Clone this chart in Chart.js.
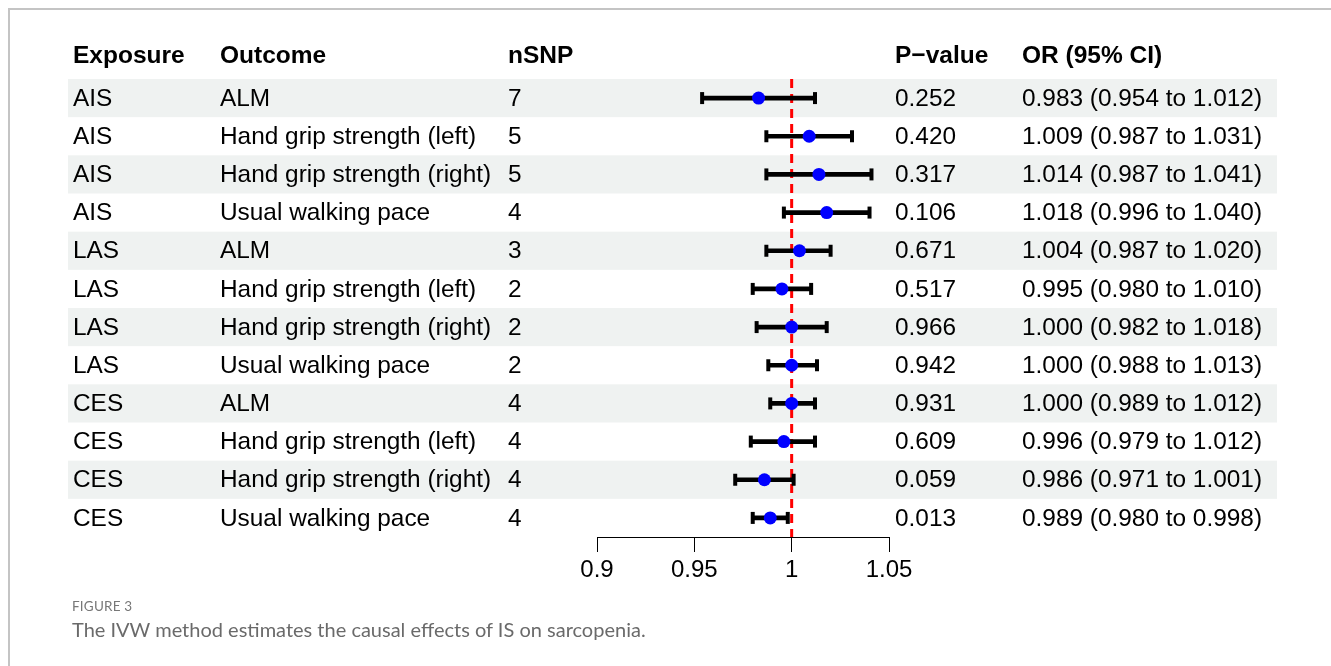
<!DOCTYPE html>
<html>
<head>
<meta charset="utf-8">
<script src="https://cdn.jsdelivr.net/npm/chart.js@4.4.1/dist/chart.umd.min.js"></script>
<style>
    html, body { margin: 0; padding: 0; background: #fff; }
    #wrap { position: relative; width: 1331px; height: 666px; overflow: hidden; }
    #frame { position: absolute; left: 8px; top: 8px; right: -2px; bottom: -2px;
             border-top: 2px solid #c4c4c4; border-left: 2px solid #c4c4c4; }
    #chart { position: absolute; left: 0; top: 0; }
    .fig { position: absolute; left: 72px; font-family: Lato, "Open Sans", sans-serif; color: #777; }
    #figno { top: 598px; font-size: 13.5px; letter-spacing: 0.2px; }
    #figcap { top: 617px; font-size: 20px; color: #6a6a6a; }
</style>
</head>
<body>
<div id="wrap">
    <div id="frame"></div>
    <canvas id="chart" width="1331" height="666"></canvas>
    <div class="fig" id="figno">FIGURE 3</div>
    <div class="fig" id="figcap">The IVW method estimates the causal effects of IS on sarcopenia.</div>
</div>
<script>
// Table data
const exposures = ["AIS","AIS","AIS","AIS","LAS","LAS","LAS","LAS","CES","CES","CES","CES"];
const outcomes = ["ALM","Hand grip strength (left)","Hand grip strength (right)","Usual walking pace",
                  "ALM","Hand grip strength (left)","Hand grip strength (right)","Usual walking pace",
                  "ALM","Hand grip strength (left)","Hand grip strength (right)","Usual walking pace"];
const nSNP = [7, 5, 5, 4, 3, 2, 2, 2, 4, 4, 4, 4];
const pValues = ["0.252","0.420","0.317","0.106","0.671","0.517","0.966","0.942","0.931","0.609","0.059","0.013"];
const orEst = [0.983, 1.009, 1.014, 1.018, 1.004, 0.995, 1.000, 1.000, 1.000, 0.996, 0.986, 0.989];
const ciLow = [0.954, 0.987, 0.987, 0.996, 0.987, 0.980, 0.982, 0.988, 0.989, 0.979, 0.971, 0.980];
const ciHigh = [1.012, 1.031, 1.041, 1.040, 1.020, 1.010, 1.018, 1.013, 1.012, 1.012, 1.001, 0.998];
const xTicks = [0.9, 0.95, 1, 1.05];
const headers = ["Exposure", "Outcome", "nSNP", "P\u2212value", "OR (95% CI)"];

const rows = orEst.map((v, i) => i);
const fmt = v => v.toFixed(3);

const FONT = '"Liberation Sans", Arial, Helvetica, sans-serif';
const colX = [73, 220, 508, 895, 1022];

// bands + table text, placed on the row positions of the y scale
const tablePlugin = {
    id: "table",
    beforeDatasetsDraw(chart) {
        const ctx = chart.ctx, y = chart.scales.y;
        ctx.save();
        ctx.fillStyle = "#eff2f1";
        rows.forEach(i => {
            if (i % 2 === 0) {
                const top = y.getPixelForValue(i - 0.5);
                const bot = y.getPixelForValue(i + 0.5);
                ctx.fillRect(68, top, 1277 - 68, bot - top);
            }
        });
        ctx.restore();
    },
    afterDraw(chart) {
        const ctx = chart.ctx, y = chart.scales.y;
        ctx.save();
        ctx.fillStyle = "#000";
        ctx.textBaseline = "middle";
        ctx.font = "bold 24.5px " + FONT;
        const hy = y.getPixelForValue(-1.1);
        headers.forEach((h, c) => ctx.fillText(h, colX[c], hy));
        ctx.font = "24.4px " + FONT;
        rows.forEach(i => {
            const py = y.getPixelForValue(i) + 1;
            const cells = [exposures[i], outcomes[i], String(nSNP[i]), pValues[i],
                fmt(orEst[i]) + " (" + fmt(ciLow[i]) + " to " + fmt(ciHigh[i]) + ")"];
            cells.forEach((t, c) => ctx.fillText(t, colX[c], py));
        });
        ctx.restore();
    }
};

new Chart(document.getElementById("chart"), {
    data: {
        datasets: [
            {
                type: "line",
                data: [{x: 1, y: -0.5}, {x: 1, y: 11.5}],
                borderColor: "#ff0000",
                borderWidth: 3,
                borderDash: [9, 6],
                pointRadius: 0,
                order: 3
            },
            {
                type: "bar",
                indexAxis: "y",
                data: rows.map(i => ({x: [ciLow[i], ciHigh[i]], y: i})),
                backgroundColor: "#000",
                barThickness: 4,
                order: 2
            },
            {
                type: "scatter",
                data: rows.map(i => ({x: ciLow[i], y: i})),
                pointStyle: "line",
                rotation: 90,
                radius: 6,
                borderWidth: 4,
                borderColor: "#000",
                order: 1
            },
            {
                type: "scatter",
                data: rows.map(i => ({x: ciHigh[i], y: i})),
                pointStyle: "line",
                rotation: 90,
                radius: 6,
                borderWidth: 4,
                borderColor: "#000",
                order: 1
            },
            {
                type: "scatter",
                data: rows.map(i => ({x: orEst[i], y: i})),
                pointStyle: "circle",
                radius: 6.5,
                backgroundColor: "#0000ff",
                borderWidth: 0,
                order: 0
            }
        ]
    },
    options: {
        responsive: false,
        animation: false,
        clip: false,
        layout: { padding: { left: 597, right: 442, top: 79, bottom: 0 } },
        plugins: { legend: { display: false }, tooltip: { enabled: false } },
        scales: {
            x: {
                type: "linear",
                min: 0.9,
                max: 1.05,
                offset: false,
                afterFit: s => { s.height = 129; },
                afterBuildTicks: s => { s.ticks = xTicks.map(v => ({value: v})); },
                ticks: {
                    color: "#000",
                    font: { family: FONT, size: 24 },
                    padding: 4,
                    maxRotation: 0,
                    callback: v => String(v)
                },
                grid: { drawOnChartArea: false, color: "#000", tickLength: 15, lineWidth: 1 },
                border: { color: "#000", width: 1 }
            },
            y: {
                type: "linear",
                min: -0.5,
                max: 11.5,
                reverse: true,
                offset: false,
                display: false
            }
        }
    },
    plugins: [tablePlugin]
});
</script>
</body>
</html>
